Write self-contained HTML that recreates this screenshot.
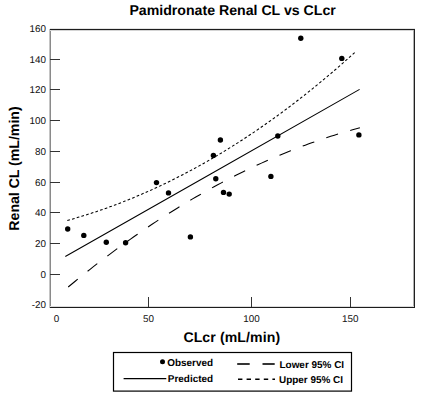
<!DOCTYPE html>
<html><head><meta charset="utf-8"><style>
html,body{margin:0;padding:0;background:#fff;}
body{width:425px;height:396px;overflow:hidden;}
svg{display:block;font-family:"Liberation Sans",sans-serif;text-rendering:geometricPrecision;}
</style></head><body>
<svg width="425" height="396" viewBox="0 0 425 396">
<rect width="425" height="396" fill="#fff"/>
<text x="232.6" y="14.9" text-anchor="middle" font-size="14.15" font-weight="bold">Pamidronate Renal CL vs CLcr</text>
<g shape-rendering="crispEdges">
<rect x="49" y="29" width="1" height="279" fill="#c4c4c4"/>
<rect x="50" y="29" width="1" height="279" fill="#8a8a8a"/>
<rect x="50" y="28" width="365" height="1" fill="#e4e4e4"/>
<rect x="50" y="29" width="365" height="1" fill="#1c1c1c"/>
<rect x="50" y="30" width="363" height="1" fill="#d4d4d4"/>
<rect x="413" y="30" width="1" height="277" fill="#b0b0b0"/>
<rect x="414" y="29" width="1" height="279" fill="#202020"/>
<rect x="50" y="306" width="364" height="1" fill="#dcdcdc"/>
<rect x="50" y="307" width="365" height="1" fill="#1c1c1c"/>
</g>
<g fill="#333" shape-rendering="crispEdges"><rect x="50" y="59" width="10" height="1"/><rect x="50" y="89" width="10" height="1"/><rect x="50" y="120" width="10" height="1"/><rect x="50" y="151" width="10" height="1"/><rect x="50" y="182" width="10" height="1"/><rect x="50" y="212" width="10" height="1"/><rect x="50" y="243" width="10" height="1"/><rect x="50" y="274" width="10" height="1"/><rect x="148" y="297" width="1" height="10"/><rect x="251" y="297" width="1" height="10"/><rect x="350" y="297" width="1" height="10"/></g>
<g font-size="9.9" fill="#111"><text x="46.0" y="32.0" text-anchor="end">160</text><text x="46.0" y="62.7" text-anchor="end">140</text><text x="46.0" y="93.1" text-anchor="end">120</text><text x="46.0" y="123.9" text-anchor="end">100</text><text x="46.0" y="154.8" text-anchor="end">80</text><text x="46.0" y="185.6" text-anchor="end">60</text><text x="46.0" y="216.1" text-anchor="end">40</text><text x="46.0" y="246.9" text-anchor="end">20</text><text x="46.0" y="277.8" text-anchor="end">0</text><text x="46.0" y="308.3" text-anchor="end">-20</text><text x="56.4" y="322.1" text-anchor="middle">0</text><text x="148.5" y="322.1" text-anchor="middle">50</text><text x="251.5" y="322.1" text-anchor="middle">100</text><text x="350.2" y="322.1" text-anchor="middle">150</text></g>
<text x="231.8" y="341.6" text-anchor="middle" font-size="14.1" letter-spacing="0.1" font-weight="bold">CLcr (mL/min)</text>
<text transform="translate(19.1,168.5) rotate(-90)" text-anchor="middle" font-size="14.1" font-weight="bold">Renal CL (mL/min)</text>
<g fill="none" stroke="#000" stroke-width="1.05">
<path d="M65.30,256.54 L212.45,172.94 L359.60,89.35"/>
<path d="M68.20,287.01 L71.85,283.99 L75.49,281.01 L79.14,278.05 L82.78,275.11 L86.43,272.20 L90.08,269.32 L93.72,266.46 L97.37,263.63 L101.02,260.83 L104.66,258.05 L108.31,255.30 L111.95,252.57 L115.60,249.87 L119.25,247.20 L122.89,244.55 L126.54,241.93 L130.19,239.33 L133.83,236.76 L137.48,234.22 L141.12,231.70 L144.77,229.21 L148.42,226.74 L152.06,224.30 L155.71,221.89 L159.36,219.50 L163.00,217.14 L166.65,214.80 L170.30,212.49 L173.94,210.21 L177.59,207.95 L181.23,205.71 L184.88,203.51 L188.53,201.33 L192.17,199.17 L195.82,197.04 L199.46,194.94 L203.11,192.86 L206.76,190.81 L210.40,188.78 L214.05,186.78 L217.70,184.81 L221.34,182.86 L224.99,180.94 L228.63,179.04 L232.28,177.17 L235.93,175.33 L239.57,173.51 L243.22,171.71 L246.87,169.94 L250.51,168.20 L254.16,166.49 L257.81,164.79 L261.45,163.13 L265.10,161.49 L268.74,159.88 L272.39,158.29 L276.04,156.73 L279.68,155.19 L283.33,153.68 L286.98,152.19 L290.62,150.73 L294.27,149.30 L297.91,147.89 L301.56,146.51 L305.21,145.15 L308.85,143.82 L312.50,142.51 L316.14,141.23 L319.79,139.98 L323.44,138.75 L327.08,137.54 L330.73,136.37 L334.38,135.21 L338.02,134.09 L341.67,132.99 L345.31,131.91 L348.96,130.86 L352.61,129.83 L356.25,128.83 L359.90,127.86" stroke-dasharray="12.3,12.69"/>
<path d="M67.30,220.48 L70.91,219.47 L74.52,218.44 L78.13,217.37 L81.73,216.28 L85.34,215.17 L88.95,214.02 L92.56,212.85 L96.17,211.65 L99.78,210.43 L103.39,209.17 L107.00,207.90 L110.60,206.59 L114.21,205.26 L117.82,203.89 L121.43,202.51 L125.04,201.09 L128.65,199.65 L132.26,198.18 L135.87,196.68 L139.47,195.15 L143.08,193.60 L146.69,192.02 L150.30,190.41 L153.91,188.78 L157.52,187.11 L161.13,185.42 L164.74,183.70 L168.34,181.95 L171.95,180.18 L175.56,178.37 L179.17,176.54 L182.78,174.68 L186.39,172.79 L190.00,170.88 L193.61,168.93 L197.21,166.96 L200.82,164.96 L204.43,162.93 L208.04,160.87 L211.65,158.78 L215.26,156.67 L218.87,154.52 L222.48,152.35 L226.08,150.15 L229.69,147.92 L233.30,145.66 L236.91,143.37 L240.52,141.05 L244.13,138.71 L247.74,136.33 L251.35,133.93 L254.95,131.50 L258.56,129.03 L262.17,126.54 L265.78,124.02 L269.39,121.47 L273.00,118.89 L276.61,116.28 L280.22,113.64 L283.82,110.97 L287.43,108.28 L291.04,105.55 L294.65,102.79 L298.26,100.00 L301.87,97.19 L305.48,94.34 L309.09,91.46 L312.69,88.56 L316.30,85.62 L319.91,82.65 L323.52,79.66 L327.13,76.63 L330.74,73.57 L334.35,70.49 L337.96,67.37 L341.56,64.22 L345.17,61.04 L348.78,57.84 L352.39,54.60 L356.00,51.33" stroke-dasharray="2.7,2.2"/>
</g>
<g fill="#000"><circle cx="67.7" cy="229" r="2.7"/><circle cx="83.8" cy="235.4" r="2.7"/><circle cx="106.3" cy="242.3" r="2.7"/><circle cx="125.6" cy="242.8" r="2.7"/><circle cx="156.5" cy="182.6" r="2.7"/><circle cx="168.5" cy="192.9" r="2.7"/><circle cx="190.4" cy="236.9" r="2.7"/><circle cx="213.4" cy="155.4" r="2.7"/><circle cx="215.8" cy="178.7" r="2.7"/><circle cx="220.4" cy="140.0" r="2.7"/><circle cx="223.5" cy="192.4" r="2.7"/><circle cx="229.2" cy="194.1" r="2.7"/><circle cx="270.9" cy="176.4" r="2.7"/><circle cx="277.8" cy="136.0" r="2.7"/><circle cx="300.8" cy="38.3" r="2.7"/><circle cx="341.8" cy="58.4" r="2.7"/><circle cx="358.9" cy="134.9" r="2.7"/></g>
<rect x="113.5" y="352.5" width="238" height="38.6" fill="none" stroke="#000" stroke-width="1.2"/>
<circle cx="162.5" cy="361.8" r="2.5"/>
<g font-size="9.95" font-weight="bold">
<text x="167.2" y="366.1">Observed</text>
<text x="167.8" y="382.3">Predicted</text>
<text x="279.5" y="368">Lower 95% CI</text>
<text x="279" y="382.6">Upper 95% CI</text>
</g>
<g stroke="#000">
<line x1="123.6" y1="378.6" x2="166.3" y2="378.6" stroke-width="1.3"/>
<line x1="237.2" y1="364" x2="249.7" y2="364" stroke-width="1.6"/>
<line x1="262.5" y1="364" x2="274.7" y2="364" stroke-width="1.6"/>
<line x1="238" y1="379.2" x2="275" y2="379.2" stroke-dasharray="4.4,4.2" stroke-width="1.5"/>
</g>
</svg>
</body></html>
